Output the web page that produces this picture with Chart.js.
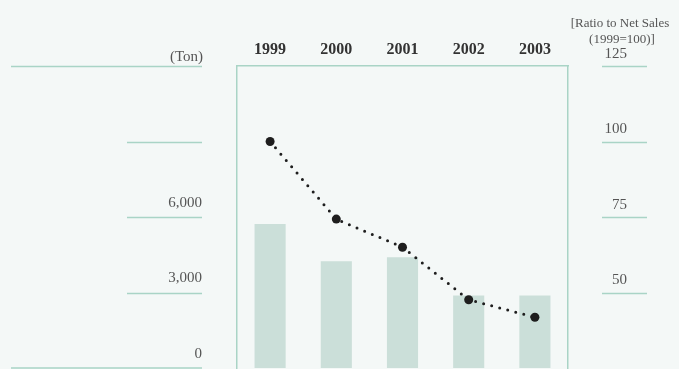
<!DOCTYPE html>
<html>
<head>
<meta charset="utf-8">
<script src="https://cdn.jsdelivr.net/npm/chart.js@4/dist/chart.umd.min.js"></script>
<style>
  html, body { margin: 0; padding: 0; background: #f4f8f7; }
  #chart { display: block; }
</style>
</head>
<body>
<canvas id="chart" width="679" height="369"></canvas>
<script>
const years = ["1999", "2000", "2001", "2002", "2003"];
// waste volume, tons
const tons = [5720, 4240, 4400, 2880, 2880];
// ratio to net sales, 1999 = 100
const ratio = [100, 74.3, 65, 47.6, 41.8];

const tonTicks = [0, 3000, 6000, 9000, 12000];
const ratioTicks = [25, 50, 75, 100, 125];

const lineColor = "#a9d4c6";
const serif = "'Liberation Serif', 'DejaVu Serif', serif";

// fixed axis sizes, no extra room for half-labels at the ends
function fixSize(w, h) {
  return (s) => {
    if (w) s.width = w;
    if (h) s.height = h;
    s.paddingTop = s.paddingBottom = s.paddingLeft = s.paddingRight = 0;
  };
}

// short rules beside each axis tick + axis captions
const axisDecor = {
  id: "axisDecor",
  afterDraw(chart) {
    const ctx = chart.ctx;
    const left = chart.scales.y;
    const right = chart.scales.y1;
    ctx.save();
    ctx.strokeStyle = lineColor;
    ctx.lineWidth = 1.5;
    left.ticks.forEach((t) => {
      const y = Math.min(Math.round(left.getPixelForValue(t.value)) + 0.5, 368);
      const long = t.value === 0 || t.value === 12000;
      ctx.beginPath();
      ctx.moveTo(long ? 11 : 127, y);
      ctx.lineTo(202, y);
      ctx.stroke();
    });
    right.ticks.forEach((t) => {
      if (t.value < 50) return;
      const y = Math.round(right.getPixelForValue(t.value)) + 0.5;
      ctx.beginPath();
      ctx.moveTo(602, y);
      ctx.lineTo(647, y);
      ctx.stroke();
    });

    ctx.fillStyle = "#555";
    ctx.textBaseline = "middle";
    ctx.font = "15px " + serif;
    ctx.textAlign = "right";
    ctx.fillText("(Ton)", 203, 57);
    ctx.font = "13px " + serif;
    ctx.textAlign = "center";
    ctx.fillText("[Ratio to Net Sales", 620, 24);
    ctx.fillText("(1999=100)]", 622, 40);
    ctx.restore();
  },
};

new Chart(document.getElementById("chart"), {
  type: "bar",
  data: {
    labels: years,
    datasets: [
      {
        type: "line",
        data: ratio,
        yAxisID: "y1",
        order: 0,
        borderColor: "#1e1e1e",
        borderWidth: 3,
        borderDash: [0, 8.3],
        borderCapStyle: "round",
        tension: 0,
        pointRadius: 4.5,
        pointBackgroundColor: "#1e1e1e",
        pointBorderWidth: 0,
      },
      {
        data: tons,
        yAxisID: "y",
        order: 1,
        backgroundColor: "#cbdfd9",
        barPercentage: 0.47,
        categoryPercentage: 1,
      },
    ],
  },
  options: {
    responsive: false,
    animation: false,
    layout: { autoPadding: false, padding: { left: 0, right: 52, top: 0, bottom: 1 } },
    plugins: { legend: { display: false }, tooltip: { enabled: false } },
    scales: {
      x: {
        position: "top",
        afterFit: fixSize(0, 66),
        grid: { display: false, drawTicks: false },
        border: { display: true, color: lineColor, width: 1.5 },
        ticks: {
          padding: 7,
          color: "#333",
          font: { family: serif, size: 16, weight: "bold" },
        },
      },
      y: {
        position: "left",
        min: 0,
        max: 12000,
        afterFit: fixSize(237, 0),
        afterBuildTicks: (s) => { s.ticks = tonTicks.map((v) => ({ value: v })); },
        // hidden tick marks only push the labels away from the frame
        grid: { display: false, drawTicks: true, tickLength: 35 },
        border: { display: true, color: lineColor, width: 1.5 },
        ticks: {
          padding: 0,
          labelOffset: -14,
          color: "#555",
          font: { family: serif, size: 15 },
          callback: (v) => (v >= 9000 ? "" : v.toLocaleString("en-US")),
        },
      },
      y1: {
        position: "right",
        min: 25,
        max: 125,
        afterFit: fixSize(59, 0),
        afterBuildTicks: (s) => { s.ticks = ratioTicks.map((v) => ({ value: v })); },
        grid: { display: false, drawTicks: false },
        border: { display: true, color: lineColor, width: 1.5 },
        ticks: {
          padding: 0,
          crossAlign: "far",
          labelOffset: -12,
          color: "#555",
          font: { family: serif, size: 15 },
          callback: (v) => (v < 50 ? "" : String(v)),
        },
      },
    },
  },
  plugins: [axisDecor],
});
</script>
</body>
</html>
